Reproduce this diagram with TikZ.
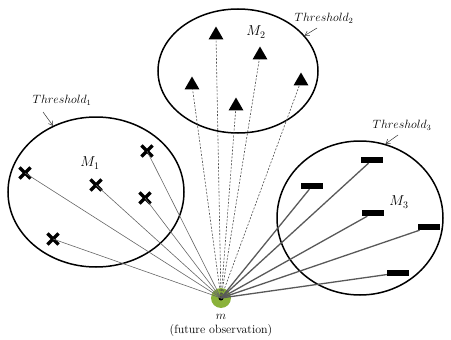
\documentclass[tikz,border=0pt]{standalone}
\usetikzlibrary{shapes.geometric,shapes.misc,arrows.meta}
\definecolor{obsgreen}{RGB}{138,178,58}
\begin{document}
\begin{tikzpicture}[x=1pt,y=-1pt,font=\large,
  cluster/.style={draw,ellipse,line width=1.5pt,inner sep=0pt},
  crossmark/.style={cross out,draw,line width=3.2pt,minimum size=8pt,inner sep=0pt},
  trimark/.style={regular polygon,regular polygon sides=3,fill,inner sep=0pt,minimum size=17pt},
  barmark/.style={rectangle,fill,inner sep=0pt,minimum width=22pt,minimum height=6pt},
  pointer/.style={-{Straight Barb[length=4pt,width=5pt]},gray!40!black,line width=0.5pt},
  thinlink/.style={gray!80!black,line width=0.6pt},
  dashlink/.style={gray!60!black,line width=0.6pt,dash pattern=on 2pt off 1.5pt},
  boldlink/.style={gray!70!black,line width=1.3pt}]
      \useasboundingbox (0,0) rectangle (451,340);
      % the three clusters
      \node (c1) [cluster,minimum width=176pt,minimum height=150pt] at (96,192) {};
      \node (c2) [cluster,minimum width=160pt,minimum height=124pt] at (238,71) {};
      \node (c3) [cluster,minimum width=166pt,minimum height=154pt] at (360,218) {};
      \node (l1) [font=\Large] at (90,163) {$M_1$};
      \node (l2) [font=\Large] at (256,32) {$M_2$};
      \node (l3) [font=\Large] at (399,202) {$M_3$};
      % thresholds
      \node (th1) at (62,100) {$Threshold_1$};
      \node (th2) at (324,18) {$Threshold_2$};
      \node (th3) at (402,125) {$Threshold_3$};
      \coordinate (a1) at (43,112);
      \coordinate (a2) at (317,28);
      \coordinate (a3) at (398,135);
      \draw [pointer] (a1) -- (c1.123);
      \draw [pointer] (a2) -- (c2.28);
      \draw [pointer] (a3) -- (c3.71);
      % markers
      \node (x1) [crossmark] at (25,173) {};
      \node (x2) [crossmark] at (147,151) {};
      \node (x3) [crossmark] at (96,185) {};
      \node (x4) [crossmark] at (145,198) {};
      \node (x5) [crossmark] at (53,239) {};
      \node (t1) [trimark] at (216,35) {};
      \node (t2) [trimark] at (260,55) {};
      \node (t3) [trimark] at (192,85) {};
      \node (t4) [trimark] at (236,106) {};
      \node (t5) [trimark] at (301,81) {};
      \node (r1) [barmark] at (372,160) {};
      \node (r2) [barmark] at (312,186) {};
      \node (r3) [barmark] at (373,213) {};
      \node (r4) [barmark] at (429,227) {};
      \node (r5) [barmark] at (398,273) {};
      % future observation
      \node (m) [circle,fill=obsgreen,inner sep=0pt,minimum size=20pt] at (221,298) {};
      \node (mdot) [circle,fill=black,inner sep=0pt,minimum size=5pt] at (m.center) {};
      \node (ml) at (221,317) {$m$};
      \node (fo) at (221,331) {(future observation)};
      % links
      \draw [thinlink] (mdot.center) -- (x1.center);
      \draw [thinlink] (mdot.center) -- (x2.center);
      \draw [thinlink] (mdot.center) -- (x3.center);
      \draw [thinlink] (mdot.center) -- (x4.center);
      \draw [thinlink] (mdot.center) -- (x5.center);
      \draw [dashlink] (mdot.center) -- (t1);
      \draw [dashlink] (mdot.center) -- (t2);
      \draw [dashlink] (mdot.center) -- (t3);
      \draw [dashlink] (mdot.center) -- (t4);
      \draw [dashlink] (mdot.center) -- (t5);
      \draw [boldlink] (mdot.center) -- (r1);
      \draw [boldlink] (mdot.center) -- (r2);
      \draw [boldlink] (mdot.center) -- (r3);
      \draw [boldlink] (mdot.center) -- (r4);
      \draw [boldlink] (mdot.center) -- (r5);
\end{tikzpicture}
\end{document}
